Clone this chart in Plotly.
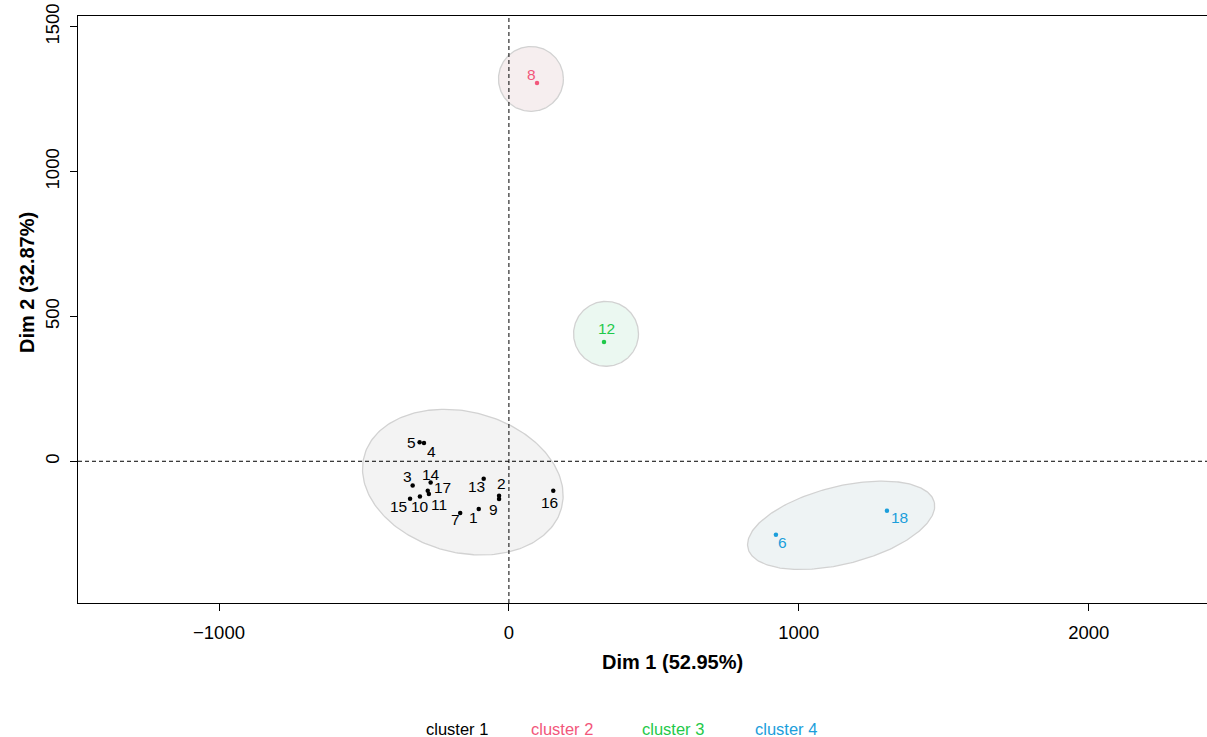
import numpy as np
import plotly.graph_objects as go

# ---- data -------------------------------------------------------------
obs_ids = ["1", "2", "3", "4", "5", "6", "7", "8", "9", "10",
           "11", "12", "13", "14", "15", "16", "17", "18"]
dim1 = [-104, -34, -332, -293, -308, 921, -168, 97, -34, -307,
        -276, 328, -87, -270, -341, 153, -280, 1304]
dim2 = [-165, -119, -84, 63, 66, -254, -179, 1306, -130, -122,
        -113, 412, -60, -73, -129, -102, -102, -171]
cluster = [1, 1, 1, 1, 1, 4, 1, 2, 1, 1, 1, 3, 1, 1, 1, 1, 1, 4]

cluster_names = ["cluster 1", "cluster 2", "cluster 3", "cluster 4"]
# ellipse per cluster: centre x, centre y, semi-axis a, semi-axis b, angle (deg)
ell_cx = [-159, 76, 335, 1146]
ell_cy = [-72, 1320, 440, -221]
ell_a = [352, 112, 112, 331]
ell_b = [243, 112, 112, 134]
ell_angle = [-14.7, 0, 0, 14]

x_ticks = [-1000, 0, 1000, 2000]
y_ticks = [0, 500, 1000, 1500]
x_title = "Dim 1 (52.95%)"
y_title = "Dim 2 (32.87%)"

# ---- style ------------------------------------------------------------
FONT = "Liberation Sans, Arial, Helvetica, sans-serif"
text_colors = ["#000000", "#F2577B", "#1FC94A", "#1B9EDB"]
fill_colors = ["#F3F3F3", "#F6EEEF", "#EBF8F1", "#EEF3F4"]
edge_color = "#D2D2D2"
# label offsets (px) relative to each point: (dx right, dy down)
label_offsets = {
    "1": (-5, 8), "2": (2, -12), "3": (-5, -9), "4": (8, 8), "5": (-8, 0),
    "6": (7, 8), "7": (-5, 6), "8": (-6, -9), "9": (-6, 11), "10": (0, 10),
    "11": (10, 10), "12": (2, -13), "13": (-7, 8), "14": (0, -8),
    "15": (-12, 8), "16": (-4, 12), "17": (15, -3), "18": (13, 7),
}

W, H = 1207, 737
ML, MR, MT, MB = 78, 0, 16, 134
PW, PH = W - ML - MR, H - MT - MB


def px_to_paper(px, py):
    return (px - ML) / PW, (H - MB - py) / PH


fig = go.Figure()

# cluster ellipses
t = np.linspace(0, 2 * np.pi, 241)
for k in range(len(cluster_names)):
    th = np.deg2rad(ell_angle[k])
    ex = ell_cx[k] + ell_a[k] * np.cos(t) * np.cos(th) - ell_b[k] * np.sin(t) * np.sin(th)
    ey = ell_cy[k] + ell_a[k] * np.cos(t) * np.sin(th) + ell_b[k] * np.sin(t) * np.cos(th)
    fig.add_trace(go.Scatter(
        x=ex, y=ey, mode="lines", fill="toself",
        fillcolor=fill_colors[k],
        line=dict(color=edge_color, width=1.3),
        hoverinfo="skip", showlegend=False,
    ))

# observations
for k in range(len(cluster_names)):
    idx = [i for i, c in enumerate(cluster) if c == k + 1]
    fig.add_trace(go.Scatter(
        x=[dim1[i] for i in idx], y=[dim2[i] for i in idx],
        mode="markers",
        marker=dict(color=text_colors[k], size=4.5),
        text=[obs_ids[i] for i in idx],
        showlegend=False,
    ))

annotations = []
for i, name in enumerate(obs_ids):
    dx, dy = label_offsets[name]
    annotations.append(dict(
        x=dim1[i], y=dim2[i], xref="x", yref="y", text=name,
        showarrow=False, xshift=dx, yshift=-dy,
        font=dict(family=FONT, size=15.5, color=text_colors[cluster[i] - 1]),
    ))

# axis titles
ax, ay = px_to_paper(672, 662)
annotations.append(dict(x=ax, y=ay, xref="paper", yref="paper", text=f"<b>{x_title}</b>",
                        showarrow=False, xanchor="center", yanchor="middle",
                        font=dict(family=FONT, size=20, color="black")))
ax, ay = px_to_paper(27, 283)
annotations.append(dict(x=ax, y=ay, xref="paper", yref="paper", text=f"<b>{y_title}</b>",
                        showarrow=False, xanchor="center", yanchor="middle", textangle=-90,
                        font=dict(family=FONT, size=20, color="black")))

# legend row
legend_px = [457, 562, 673, 786]
for k, name in enumerate(cluster_names):
    lx, ly = px_to_paper(legend_px[k], 729)
    annotations.append(dict(x=lx, y=ly, xref="paper", yref="paper", text=name,
                            showarrow=False, xanchor="center", yanchor="middle",
                            font=dict(family=FONT, size=16.5, color=text_colors[k])))

# dashed reference lines through the origin
shapes = [
    dict(type="line", xref="paper", yref="y", x0=0, x1=1, y0=0, y1=0,
         line=dict(color="black", width=1, dash="4px,3px"), layer="above"),
    dict(type="line", xref="x", yref="paper", x0=0, x1=0, y0=0, y1=1,
         line=dict(color="black", width=1, dash="4px,3px"), layer="above"),
]

fig.update_layout(
    width=W, height=H,
    margin=dict(l=ML, r=MR, t=MT, b=MB, pad=0),
    paper_bgcolor="white", plot_bgcolor="white",
    showlegend=False,
    annotations=annotations,
    shapes=shapes,
    font=dict(family=FONT, color="black"),
    xaxis=dict(
        range=[-1486.4, 2408.0], tickvals=x_ticks, showgrid=False, zeroline=False,
        showline=True, mirror=True, linecolor="black", linewidth=1,
        ticks="outside", ticklen=7, tickcolor="black", tickwidth=1,
        tickfont=dict(family=FONT, size=18.5, color="black"), ticklabelstandoff=6,
    ),
    yaxis=dict(
        range=[-489.3, 1537.3], tickvals=y_ticks, showgrid=False, zeroline=False,
        showline=True, mirror=False, linecolor="black", linewidth=1,
        ticks="outside", ticklen=7, tickcolor="black", tickwidth=1, tickangle=-90,
        tickfont=dict(family=FONT, size=18.5, color="black"), ticklabelstandoff=4,
    ),
)

fig.write_html("out.html")
